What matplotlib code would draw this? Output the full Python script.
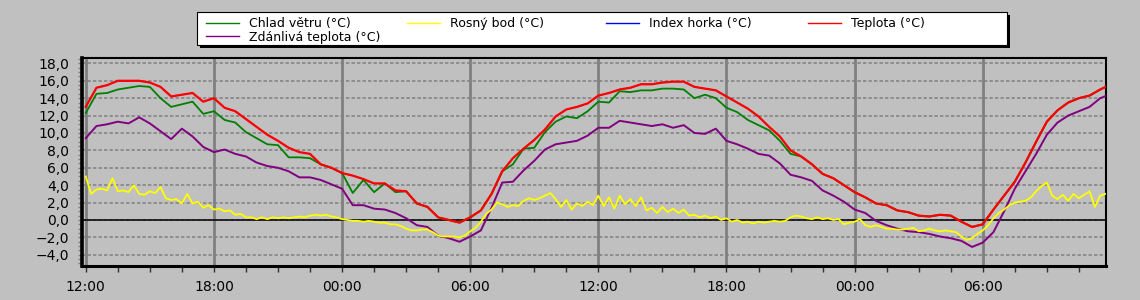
import numpy as np
import matplotlib
matplotlib.use("Agg")
import matplotlib.pyplot as plt
from matplotlib.ticker import MultipleLocator, FixedLocator, FuncFormatter
from matplotlib.patches import Rectangle
from matplotlib.lines import Line2D

plt.rcParams['font.family'] = ['DejaVu Sans']

# ---------------- data (hours after 12:00 of the first day) ----------------
hours = np.arange(97) * 0.5          # half-hourly samples
hours_dew = np.arange(192) * 0.25    # quarter-hourly samples for dew point

temperature = [
    13.0, 15.2, 15.5, 16.0, 16.0, 16.0, 15.8, 15.3, 14.2, 14.4, 14.6, 13.6,
    14.0, 12.9, 12.5, 11.6, 10.7, 9.8, 9.1, 8.3, 7.8, 7.6, 6.4, 6.0,
    5.4, 5.1, 4.7, 4.2, 4.2, 3.4, 3.3, 1.9, 1.5, 0.3, 0.0, -0.3,
    0.3, 1.1, 3.0, 5.6, 7.1, 8.2, 9.2, 10.4, 11.9, 12.7, 13.0, 13.4,
    14.3, 14.6, 15.0, 15.2, 15.6, 15.6, 15.8, 15.9, 15.9, 15.3, 15.1, 14.9,
    14.2, 13.5, 12.8, 11.9, 10.7, 9.6, 8.0, 7.3, 6.4, 5.3, 4.8, 4.0,
    3.2, 2.6, 1.9, 1.7, 1.1, 0.9, 0.5, 0.4, 0.6, 0.5, -0.2, -0.8,
    -0.5, 1.2, 2.8, 4.4, 6.6, 9.0, 11.3, 12.6, 13.5, 14.0, 14.3, 15.0,
    15.6,
]

wind_chill = [
    12.3, 14.5, 14.6, 15.0, 15.2, 15.4, 15.3, 14.0, 13.0, 13.3, 13.6, 12.2,
    12.5, 11.5, 11.2, 10.1, 9.4, 8.7, 8.6, 7.2, 7.2, 7.1, 6.4, 6.0,
    5.4, 3.1, 4.6, 3.2, 4.2, 3.2, 3.3, 1.9, 1.5, 0.3, 0.0, -0.3,
    0.3, 1.1, 3.0, 5.6, 6.4, 8.2, 8.3, 10.1, 11.3, 11.9, 11.7, 12.5,
    13.6, 13.5, 14.8, 14.7, 14.9, 14.9, 15.1, 15.1, 15.0, 14.0, 14.4, 14.0,
    12.9, 12.4, 11.5, 10.9, 10.3, 9.1, 7.6, 7.3, 6.4, 5.3, 4.8, 4.0,
    3.2, 2.6, 1.9, 1.7, 1.1, 0.9, 0.5, 0.4, 0.6, 0.5, -0.2, -0.8,
    -0.5, 1.2, 2.8, 4.4, 6.6, 9.0, 11.3, 12.6, 13.5, 14.0, 14.3, 15.0,
    15.6,
]

apparent = [
    9.4, 10.8, 11.0, 11.3, 11.1, 11.8, 11.1, 10.2, 9.3, 10.5, 9.6, 8.4,
    7.8, 8.1, 7.6, 7.3, 6.6, 6.2, 6.0, 5.6, 4.9, 4.9, 4.6, 4.1,
    3.6, 1.7, 1.7, 1.3, 1.2, 0.8, 0.2, -0.6, -0.8, -1.8, -2.1, -2.5,
    -1.9, -1.2, 1.4, 4.3, 4.4, 5.7, 6.8, 8.1, 8.7, 8.9, 9.1, 9.7,
    10.6, 10.6, 11.4, 11.2, 11.0, 10.8, 11.0, 10.6, 10.9, 10.0, 9.9, 10.5,
    9.1, 8.7, 8.2, 7.6, 7.4, 6.5, 5.2, 4.9, 4.5, 3.4, 2.8, 2.1,
    1.2, 0.8, -0.1, -0.6, -1.0, -1.3, -1.4, -1.6, -1.9, -2.1, -2.4, -3.1,
    -2.6, -1.4, 1.0, 3.6, 5.6, 7.6, 9.8, 11.2, 12.0, 12.5, 13.0, 14.0,
    14.5,
]

heat_index = list(temperature)   # hidden below the temperature line

dew_point = [
    5.0, 3.0, 3.5, 3.6, 3.4, 4.8, 3.3, 3.4, 3.2, 4.0, 3.0, 2.9,
    3.3, 3.1, 3.8, 2.5, 2.3, 2.4, 1.9, 3.0, 1.9, 2.1, 1.4, 1.7,
    1.2, 1.3, 1.0, 1.1, 0.6, 0.7, 0.3, 0.3,
    0.1, 0.3, 0.1, 0.3, 0.2, 0.3, 0.2, 0.3, 0.4, 0.3, 0.5, 0.6,
    0.5, 0.6, 0.4, 0.3,
    0.1, 0.0, -0.1, -0.1, -0.2, -0.1, -0.2, -0.3, -0.3, -0.5, -0.5, -0.7,
    -1.0, -1.2, -1.2, -1.1,
    -1.1, -1.4, -1.8, -1.9, -1.9, -1.9, -2.0, -1.8, -1.3, -0.9, -0.2, 0.7,
    1.2, 2.0, 1.8, 1.5,
    1.7, 1.6, 2.2, 2.5, 2.3, 2.5, 2.8, 3.1, 2.4, 1.5, 2.3, 1.2,
    1.9, 1.6, 2.1, 1.7,
    2.8, 1.6, 2.6, 1.3, 2.8, 1.8, 2.4, 1.6, 2.6, 1.1, 1.4, 0.8,
    1.5, 0.9, 1.3, 0.8,
    1.2, 0.5, 0.6, 0.3, 0.5, 0.2, 0.4, 0.0, 0.2, -0.2, 0.0, -0.3,
    -0.2, -0.4, -0.2, -0.3,
    -0.2, -0.1, -0.2, -0.1, 0.3, 0.5, 0.4, 0.2, 0.1, 0.3, 0.1, 0.2,
    0.0, 0.1, -0.5, -0.3,
    -0.2, 0.1, -0.6, -0.8, -0.6, -0.8, -1.0, -1.0, -1.1, -1.1, -1.0, -0.9,
    -1.3, -1.2, -1.0, -1.2,
    -1.3, -1.2, -1.3, -1.4, -1.9, -2.3, -2.1, -1.6, -1.2, -0.6, 0.2, 0.8,
    1.2, 1.7, 2.0, 2.1,
    2.2, 2.6, 3.3, 3.9, 4.3, 2.8, 2.4, 2.9, 2.2, 3.0, 2.5, 2.9,
    3.3, 1.5, 2.8, 3.0,
]

tick_hours = [0, 6, 12, 18, 24, 30, 36, 42]
tick_labels = ["12:00", "18:00", "00:00", "06:00", "12:00", "18:00", "00:00", "06:00"]

lbl_chill = "Chlad větru (°C)"
lbl_dew = "Rosný bod (°C)"
lbl_heat = "Index horka (°C)"
lbl_temp = "Teplota (°C)"
lbl_app = "Zdánlivá teplota (°C)"

# ---------------- figure ----------------
W, H = 1140, 300
BG = '#C0C0C0'
fig = plt.figure(figsize=(W / 100, H / 100), dpi=100, facecolor=BG)
left, right, top, bottom = 81.5, 1106, 58, 266
ax = fig.add_axes([left / W, 1 - bottom / H, (right - left) / W, (bottom - top) / H])
ax.set_facecolor(BG)

ax.set_xlim(-0.2, 47.77)
ax.set_ylim(-5.29, 18.62)

# grid
ax.yaxis.set_major_locator(MultipleLocator(2))
ax.yaxis.set_minor_locator(MultipleLocator(0.5))
ax.xaxis.set_major_locator(FixedLocator(tick_hours))
ax.xaxis.set_minor_locator(MultipleLocator(1.5))
ax.set_xticklabels(tick_labels)
ax.yaxis.set_major_formatter(FuncFormatter(lambda v, p: f"{v:.1f}".replace('.', ',').replace('-', '\u2212')))

ax.grid(axis='y', which='major', color='#808080', lw=1.1, ls=(0, (2.2, 1.4)), zorder=0)
ax.grid(axis='x', which='major', color='#808080', lw=2.0, ls='-', zorder=0)
ax.set_axisbelow(True)
ax.axhline(0, color='black', lw=1.1, zorder=1)

ax.plot(hours, heat_index, color='#0000FF', lw=0.8, zorder=2)
ax.plot(hours, wind_chill, color='#008000', lw=1.3, zorder=2)
ax.plot(hours, temperature, color='#FF0000', lw=1.6, zorder=3)
ax.plot(hours, apparent, color='#800080', lw=1.4, zorder=4)
ax.plot(hours_dew, dew_point, color='#FFFF00', lw=1.3, zorder=5)

# spines
for s, w in (('left', 2.6), ('bottom', 2.2), ('top', 1.5), ('right', 1.5)):
    ax.spines[s].set_color('black')
    ax.spines[s].set_linewidth(w)

ax.tick_params(axis='y', which='both', direction='out', color='#808080', length=3, width=1,
               labelsize=10, pad=6)
ax.tick_params(axis='x', which='both', direction='out', color='#303030', length=4, width=1,
               labelsize=10, pad=6)

# ---------------- legend ----------------
fig.patches.append(Rectangle((200 / W, 1 - 48 / H), 810 / W, 33 / H, transform=fig.transFigure,
                             facecolor='black', edgecolor='black', lw=0, zorder=0))
fig.patches.append(Rectangle((197 / W, 1 - 45 / H), 810 / W, 33 / H, transform=fig.transFigure,
                             facecolor='white', edgecolor='black', lw=0.8, zorder=1))

h_chill = Line2D([], [], color='#008000', lw=1)
h_dew = Line2D([], [], color='#FFFF00', lw=1)
h_heat = Line2D([], [], color='#0000FF', lw=1)
h_temp = Line2D([], [], color='#FF0000', lw=1)
h_app = Line2D([], [], color='#800080', lw=1)

leg_kw = dict(loc='upper left', bbox_transform=fig.transFigure, frameon=False, fontsize=9,
              handlelength=2.6, handletextpad=0.85, borderpad=0, borderaxespad=0,
              labelspacing=0.05)
columns = [([h_chill, h_app], [lbl_chill, lbl_app], 206),
           ([h_dew], [lbl_dew], 407),
           ([h_heat], [lbl_heat], 606),
           ([h_temp], [lbl_temp], 808)]
for hs, ls_, x0 in columns:
    fig.legend(hs, ls_, bbox_to_anchor=(x0 / W, 1 - 17 / H), **leg_kw)

fig.savefig('out.png', dpi=100, facecolor=BG)
